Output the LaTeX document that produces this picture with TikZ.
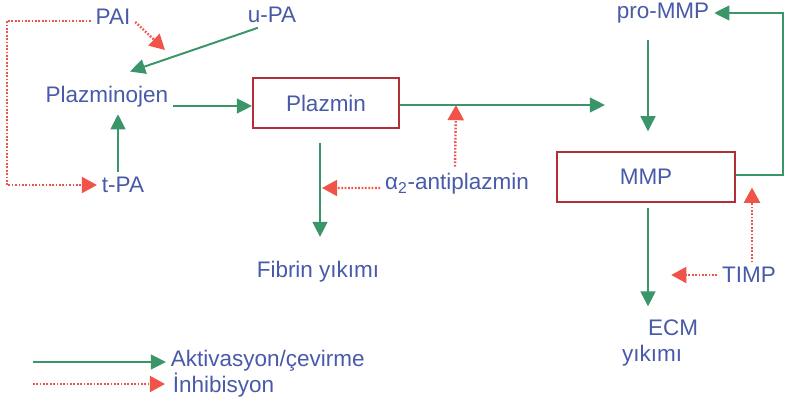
\documentclass[tikz,border=0pt]{standalone}
\usepackage{fontspec}
\setmainfont{Liberation Sans}
\usepackage{tikz}
\usetikzlibrary{arrows.meta,positioning,calc}
\definecolor{txtblue}{RGB}{72,90,168}
\definecolor{actgreen}{RGB}{58,150,104}
\definecolor{inhred}{RGB}{240,84,72}
\definecolor{boxred}{RGB}{176,48,54}
\begin{document}
\begin{tikzpicture}[
  x=0.25mm, y=-0.25mm,
  lbl/.style={text=txtblue, font=\fontsize{16}{19}\selectfont},
  enz/.style={rectangle, draw=boxred, line width=1.4pt, text=txtblue, font=\fontsize{16}{19}\selectfont, minimum height=12.3mm},
  act/.style={-{Triangle[length=3.8mm, width=3.7mm]}, draw=actgreen, line width=1.4pt},
  inh/.style={-{Triangle[length=3.8mm, width=4mm]}, draw=inhred, line width=1.7pt, dash pattern=on 1.2pt off 1.2pt, color=inhred}
]
\useasboundingbox (0,0) rectangle (785,407);

\node[lbl] (pai) at (113,17) {PAI};
\node[lbl] (upa) at (272,15) {u-PA};
\node[lbl] (plg) at (107,97) {Plazminojen};
\node[lbl] (tpa) at (123,185) {t-PA};
\node[enz, minimum width=36.5mm] (plm) at (326,103) {Plazmin};
\node[lbl] (anti) at (457,184) {α\textsubscript{2}-antiplazmin};
\node[lbl] (fib) at (318,272) {Fibrin yıkımı};
\node[lbl] (promm) at (663,13) {pro-MMP};
\node[enz, minimum width=44.3mm] (mmp) at (646,177) {MMP};
\node[lbl] (timp) at (749,275) {TIMP};
\node[lbl, align=center] (ecm) at (652,343) {\hspace*{10.5mm}ECM\\yıkımı};

\coordinate (paitip) at (165,50);
\coordinate (plmout) at (605,105);
\coordinate (fibdown) at (320,237);

\draw[inh] (pai.east) ++(0,5) -- (paitip);
\draw[inh] ([yshift=-1mm]pai.west) -- ++(-84,0) |- (tpa.west);
\draw[act] (upa.south west) ++(15,0) -- ($(plg.north)+(23,-10)$);
\draw[act] (plg.east |- plm) ++(0,3) -- ([yshift=-0.75mm]plm.west);
\draw[act, shorten >=1.5mm] (tpa.north) ++(-5,0) -- ++(0,-64);
\draw[act] (plm.east) ++(0,2) -- (plmout);
\draw[inh] (anti.north) ++(-2,-2) -- ($(plm.east)+(56,2)$);
\draw[act, shorten <=3.5mm] (plm.south -| fibdown) -- (fibdown);
\draw[inh] ([yshift=-1mm]anti.west) -- ($(fibdown)+(2,-49)$);
\draw[act, shorten <=3mm, shorten >=5mm] (promm.south -| mmp.north) ++(2,0) -- ($(mmp.north)+(2,0)$);
\draw[act] ([yshift=0.5mm]mmp.east) -- ++(47,0) |- (promm.east);
\draw[act, shorten <=1.3mm, shorten >=2mm] ($(mmp.south)+(2,0)$) -- ($(mmp.south |- ecm.north)+(2,0)$);
\draw[inh] (timp.north) ++(3,0) -- ($(timp.north |- mmp.south)+(3,-15)$);
\draw[inh, shorten >=6.3mm] (timp.west) -- (timp.west -| mmp.south);

\coordinate (lga) at (33,362);
\node[lbl, anchor=west] (akt) at (166,361) {Aktivasyon/çevirme};
\draw[act] (lga) -- (akt.west |- lga);
\coordinate (lgi) at (33,384);
\node[lbl, anchor=west] (inhb) at (168,385) {İnhibisyon};
\draw[inh] (lgi) -- ($(inhb.west |- lgi)+(-3,0)$);
\end{tikzpicture}
\end{document}
